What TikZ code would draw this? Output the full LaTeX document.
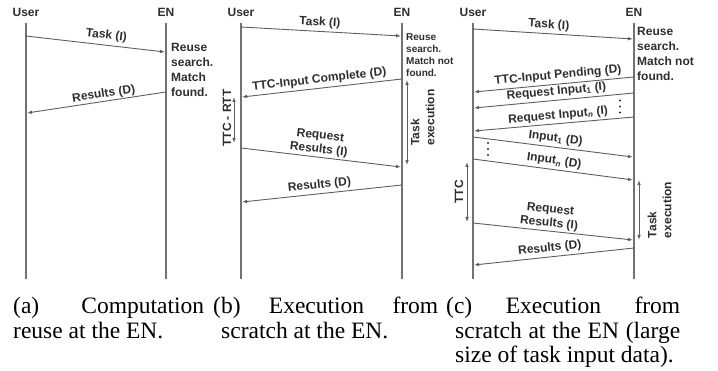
\documentclass[tikz,border=0pt]{standalone}
\usepackage{fontspec}
\setmainfont{Liberation Serif}
\newfontfamily\lsans{Liberation Sans}
\usetikzlibrary{arrows.meta}
\definecolor{lifec}{HTML}{727272}
\definecolor{msgc}{HTML}{5E5E5E}
\definecolor{txtc}{HTML}{2E2E2E}
\begin{document}
\begin{tikzpicture}[x=1pt,y=-1pt,
  life/.style={draw=lifec, line width=2.6pt},
  msg/.style={draw=msgc, line width=0.9pt, -{Latex[length=5pt,width=3.6pt]}},
  dur/.style={draw=msgc, line width=0.9pt, {Latex[length=5pt,width=3.6pt]}-{Latex[length=5pt,width=3.6pt]}},
  lbl/.style={font=\lsans\bfseries\fontsize{12}{14}\selectfont, text=txtc, inner sep=0pt, sloped, align=center},
  hdr/.style={font=\lsans\bfseries\fontsize{12}{14}\selectfont, text=txtc, inner sep=0pt, anchor=base},
  note/.style={font=\lsans\bfseries\fontsize{12}{15}\selectfont, text=txtc, inner sep=0pt, anchor=north west, align=left},
  notesm/.style={font=\lsans\bfseries\fontsize{10}{12}\selectfont, text=txtc, inner sep=0pt, anchor=north west, align=left},
  vlbl/.style={font=\lsans\bfseries\fontsize{12}{15}\selectfont, text=txtc, inner sep=0pt, rotate=90, align=left},
  dotmark/.style={fill=txtc, draw=none},
  captxt/.style={font=\fontsize{23.5}{26}\selectfont, text=black, inner sep=0pt, anchor=base west}
]
\useasboundingbox (0,0) rectangle (718,371);

% ---------------- (a) ----------------
\node[hdr] (aUser) at (26,16.5) {User};
\node[hdr] (aEN) at (166,16.5) {EN};
\coordinate (aUt) at (26,23); \coordinate (aUb) at (26,279);
\coordinate (aEt) at (166,23); \coordinate (aEb) at (166,279);
\draw[life] (aUt) -- (aUb);
\draw[life] (aEt) -- (aEb);
\coordinate (a1s) at (26,36); \coordinate (a1e) at (165,52);
\draw[msg] (a1s) -- node[lbl, pos=.57, above=3.5pt] {Task (I)} (a1e);
\coordinate (a2s) at (166,92); \coordinate (a2e) at (27,113);
\draw[msg] (a2s) -- node[lbl, pos=.44, above=1pt] {Results (D)} (a2e);
\node[note] (aReuse) at (171,43.5) {Reuse\\search.\\Match\\found.};

% ---------------- (b) ----------------
\node[hdr] (bUser) at (241,16.5) {User};
\node[hdr] (bEN) at (402,16.5) {EN};
\coordinate (bUt) at (241,23); \coordinate (bUb) at (241,279);
\coordinate (bEt) at (402,23); \coordinate (bEb) at (402,279);
\draw[life] (bUt) -- (bUb);
\draw[life] (bEt) -- (bEb);
\coordinate (b1s) at (241,27); \coordinate (b1e) at (401,36);
\draw[msg] (b1s) -- node[lbl, pos=.49, above=2.5pt] {Task (I)} (b1e);
\node[notesm] (bReuse) at (406,33.5) {Reuse\\search.\\Match not\\found.};
\coordinate (b2s) at (402,79); \coordinate (b2e) at (242,97);
\draw[msg] (b2s) -- node[lbl, pos=.51, above=2.5pt] {TTC-Input Complete (D)} (b2e);
\coordinate (bT1) at (234,97); \coordinate (bT2) at (234,143);
\draw[dur] (bT1) -- (bT2);
\node[vlbl] (bTTC) at (227,118) {TTC - RTT};
\coordinate (b3s) at (241,148); \coordinate (b3e) at (401,167);
\draw[msg] (b3s) -- node[lbl, pos=.48, above=1.5pt] {Request\\Results (I)} (b3e);
\coordinate (bX1) at (407,80); \coordinate (bX2) at (407,165);
\draw[dur] (bX1) -- (bX2);
\node[vlbl] (bExec) at (422.5,117.5) {Task\\execution};
\coordinate (b4s) at (402,185); \coordinate (b4e) at (242,202);
\draw[msg] (b4s) -- node[lbl, pos=.51, above=2.5pt] {Results (D)} (b4e);

% ---------------- (c) ----------------
\node[hdr] (cUser) at (473,16.5) {User};
\node[hdr] (cEN) at (634,16.5) {EN};
\coordinate (cUt) at (473,23); \coordinate (cUb) at (473,279);
\coordinate (cEt) at (634,23); \coordinate (cEb) at (634,279);
\draw[life] (cUt) -- (cUb);
\draw[life] (cEt) -- (cEb);
\coordinate (c1s) at (473,29); \coordinate (c1e) at (633,39);
\draw[msg] (c1s) -- node[lbl, pos=.47, above=2.5pt] {Task (I)} (c1e);
\node[note] (cReuse) at (637,27.5) {Reuse\\search.\\Match not\\found.};
\coordinate (c2s) at (634,77); \coordinate (c2e) at (474,92);
\draw[msg] (c2s) -- node[lbl, pos=.47, above=2.5pt] {TTC-Input Pending (D)} (c2e);
\coordinate (c3s) at (634,93); \coordinate (c3e) at (474,108);
\draw[msg] (c3s) -- node[lbl, pos=.48, above=2.5pt] {Request Input\textsubscript{1} (I)} (c3e);
\coordinate (cD1a) at (620,100.5); \coordinate (cD1b) at (620,106.5); \coordinate (cD1c) at (620,112.5);
\fill[dotmark] (cD1a) circle (1.1) (cD1b) circle (1.1) (cD1c) circle (1.1);
\coordinate (c4s) at (634,117); \coordinate (c4e) at (474,131);
\draw[msg] (c4s) -- node[lbl, pos=.47, above=2pt] {Request Input\textsubscript{\textit{n}} (I)} (c4e);
\coordinate (c5s) at (473,137); \coordinate (c5e) at (633,157);
\draw[msg] (c5s) -- node[lbl, pos=.51, above=2.5pt] {Input\textsubscript{1} (D)} (c5e);
\coordinate (cD2a) at (488,143); \coordinate (cD2b) at (488,149); \coordinate (cD2c) at (488,155);
\fill[dotmark] (cD2a) circle (1.1) (cD2b) circle (1.1) (cD2c) circle (1.1);
\coordinate (c6s) at (473,159); \coordinate (c6e) at (633,180);
\draw[msg] (c6s) -- node[lbl, pos=.5, above=2.5pt] {Input\textsubscript{\textit{n}} (D)} (c6e);
\coordinate (cT1) at (467,162); \coordinate (cT2) at (467,222);
\draw[dur] (cT1) -- (cT2);
\node[vlbl] (cTTC) at (459,192) {TTC};
\coordinate (c7s) at (473,223); \coordinate (c7e) at (633,240);
\draw[msg] (c7s) -- node[lbl, pos=.47, above=1.5pt] {Request\\Results (I)} (c7e);
\coordinate (cX1) at (639,180); \coordinate (cX2) at (639,240);
\draw[dur] (cX1) -- (cX2);
\node[vlbl] (cExec) at (659.5,210) {Task\\execution};
\coordinate (c8s) at (634,248); \coordinate (c8e) at (474,265);
\draw[msg] (c8s) -- node[lbl, pos=.52, above=2.5pt] {Results (D)} (c8e);

% ---------------- captions ----------------
\node[captxt] (capa1) at (13,314) {\makebox[191pt][s]{(a) Computation}};
\node[captxt] (capa2) at (13,338.5) {reuse at the EN.};
\node[captxt] (capb1) at (213,314) {\makebox[225pt][s]{(b) Execution from}};
\node[captxt] (capb2) at (221,338.5) {scratch at the EN.};
\node[captxt] (capc1) at (446,314) {\makebox[234pt][s]{(c) Execution from}};
\node[captxt] (capc2) at (455,338.5) {\makebox[225pt][s]{scratch at the EN (large}};
\node[captxt] (capc3) at (455,363) {size of task input data).};
\end{tikzpicture}
\end{document}
